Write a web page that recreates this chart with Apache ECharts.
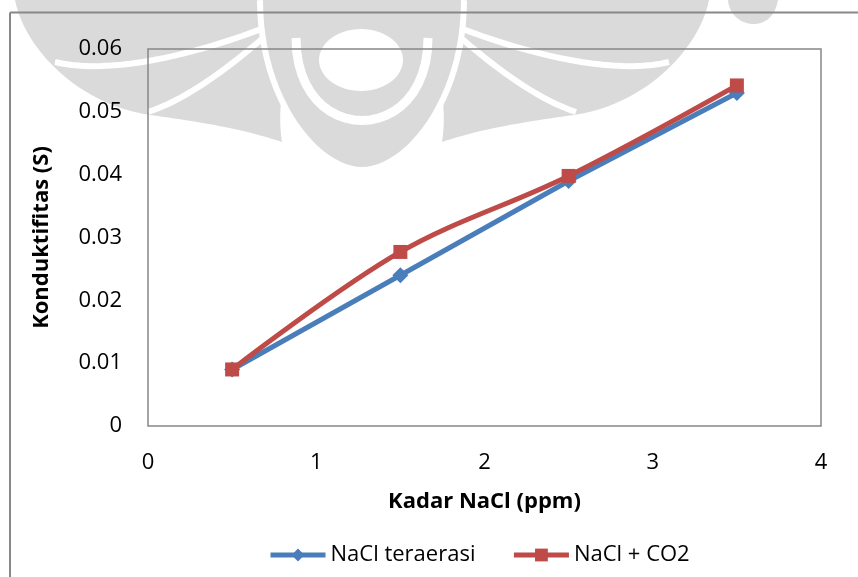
<!DOCTYPE html>
<html>
<head>
<meta charset="utf-8">
<script src="https://cdn.jsdelivr.net/npm/echarts@6/dist/echarts.min.js"></script>
<style>
  html, body { margin: 0; padding: 0; background: #ffffff; }
  #chart { width: 858px; height: 577px; }
</style>
</head>
<body>
<div id="chart"></div>
<script>
// NaCl concentration (ppm) on the x axis
var kadarNaCl = [0.5, 1.5, 2.5, 3.5];
// Conductivity (S) for each condition
var naclTeraerasi = [0.009, 0.024, 0.039, 0.053];
var naclCO2 = [0.009, 0.0277, 0.0398, 0.0542];
// Axis ticks
var xTicks = [0, 1, 2, 3, 4];
var yTicks = [0, 0.01, 0.02, 0.03, 0.04, 0.05, 0.06];

var seriesNames = ['NaCl teraerasi', 'NaCl + CO2'];
var FONT = '"Open Sans", "DejaVu Sans", sans-serif';
var WM = '#dadada';

function pairs(xs, ys) {
  return xs.map(function (x, i) { return [x, ys[i]]; });
}

// --- faint logo watermark behind the chart ---
// turn a path made of M / C / L commands into sampled points
function samplePath(d) {
  var tokens = d.match(/[MCLZ]|-?\d+(\.\d+)?/g);
  var pts = [], cur = [0, 0], i = 0, cmd = null;
  function num() { return parseFloat(tokens[i++]); }
  while (i < tokens.length) {
    var t = tokens[i];
    if (/[MCLZ]/.test(t)) { cmd = t; i++; if (cmd === 'Z') continue; }
    if (cmd === 'M' || cmd === 'L') {
      cur = [num(), num()]; pts.push(cur.slice());
    } else if (cmd === 'C') {
      var p1 = [num(), num()], p2 = [num(), num()], p3 = [num(), num()];
      for (var s = 1; s <= 24; s++) {
        var u = s / 24, v = 1 - u;
        pts.push([
          v * v * v * cur[0] + 3 * v * v * u * p1[0] + 3 * v * u * u * p2[0] + u * u * u * p3[0],
          v * v * v * cur[1] + 3 * v * v * u * p1[1] + 3 * v * u * u * p2[1] + u * u * u * p3[1]
        ]);
      }
      cur = p3;
    }
  }
  return pts;
}
var cx = 362;
function mirrorPts(pts) { return pts.map(function (p) { return [2 * cx - p[0], p[1]]; }); }
function ellipsePts(ex, ey, rx, ry) {
  var pts = [];
  for (var k = 0; k < 60; k++) {
    var a = k / 60 * Math.PI * 2;
    pts.push([ex + rx * Math.cos(a), ey + ry * Math.sin(a)]);
  }
  return pts;
}

var leftWing = samplePath('M15,0 C25,50 80,105 150,115 C200,122 240,128 282,142 C275,100 290,50 300,0 Z');
var stripeA = samplePath('M55,62 C120,78 230,45 302,12');
var stripeB = samplePath('M148,112 C200,95 255,45 290,15');
var dropPath = 'M263,0 C263,100 320,167 362,167 C404,167 461,100 461,0';
var wm = [];
[leftWing, mirrorPts(leftWing)].forEach(function (p) {
  wm.push({ type: 'polygon', z: -10, shape: { points: p }, style: { fill: WM } });
});
[stripeA, stripeB, mirrorPts(stripeA), mirrorPts(stripeB)].forEach(function (p) {
  wm.push({ type: 'polyline', z: -9, shape: { points: p }, style: { stroke: '#ffffff', lineWidth: 6 } });
});
wm.push({ type: 'polyline', z: -8, shape: { points: samplePath(dropPath) }, style: { stroke: '#ffffff', lineWidth: 12 } });
wm.push({ type: 'polygon', z: -7, shape: { points: samplePath(dropPath + ' Z') }, style: { fill: WM } });
wm.push({ type: 'polyline', z: -6, shape: { points: samplePath('M296,38 C296,148 428,148 428,38') }, style: { stroke: '#ffffff', lineWidth: 9 } });
wm.push({ type: 'polygon', z: -5, shape: { points: ellipsePts(361, 60, 42, 31) }, style: { fill: '#ffffff' } });
wm.push({ type: 'polygon', z: -5, shape: { points: samplePath('M728,0 C730,28 772,36 778,0 Z') }, style: { fill: WM } });

// outer frame lines
wm.push({ type: 'line', z: 5, shape: { x1: 10, y1: 12.5, x2: 858, y2: 12.5 }, style: { stroke: '#888888', lineWidth: 2 } });
wm.push({ type: 'line', z: 5, shape: { x1: 10, y1: 12.5, x2: 10, y2: 577 }, style: { stroke: '#888888', lineWidth: 2 } });

var chart = echarts.init(document.getElementById('chart'), null, { renderer: 'canvas' });
chart.setOption({
  backgroundColor: '#ffffff',
  animation: false,
  textStyle: { fontFamily: FONT },
  graphic: wm,
  grid: {
    left: 148, right: 37, top: 49, bottom: 151,
    show: true, borderColor: '#878787', borderWidth: 1.5, backgroundColor: 'transparent'
  },
  legend: {
    data: seriesNames,
    left: 263,
    top: 539,
    itemWidth: 55,
    itemHeight: 16,
    itemGap: 36,
    lineStyle: { width: 5 },
    textStyle: { fontSize: 22, color: '#000000', fontFamily: FONT }
  },
  xAxis: {
    type: 'value',
    min: xTicks[0],
    max: xTicks[xTicks.length - 1],
    interval: xTicks[1] - xTicks[0],
    name: 'Kadar NaCl (ppm)',
    nameLocation: 'middle',
    nameGap: 65,
    nameTextStyle: { fontSize: 22, fontWeight: 'bold', color: '#000000', fontFamily: FONT },
    axisLine: { show: false },
    axisTick: { show: false },
    splitLine: { show: false },
    axisLabel: { fontSize: 22, color: '#000000', margin: 26, fontFamily: FONT }
  },
  yAxis: {
    type: 'value',
    min: yTicks[0],
    max: yTicks[yTicks.length - 1],
    interval: 0.01,
    name: 'Konduktifitas (S)',
    nameLocation: 'middle',
    nameGap: 95,
    nameTextStyle: { fontSize: 22, fontWeight: 'bold', color: '#000000', fontFamily: FONT },
    axisLine: { show: false },
    axisTick: { show: false },
    splitLine: { show: false },
    axisLabel: {
      fontSize: 22, color: '#000000', margin: 26, fontFamily: FONT,
      formatter: function (v) { return String(Math.round(v * 100) / 100); }
    }
  },
  series: [
    {
      name: seriesNames[0],
      type: 'line',
      data: pairs(kadarNaCl, naclTeraerasi),
      symbol: 'diamond',
      symbolSize: 16,
      lineStyle: { color: '#4a7ebb', width: 5 },
      itemStyle: { color: '#4a7ebb' },
      z: 2
    },
    {
      name: seriesNames[1],
      type: 'line',
      data: pairs(kadarNaCl, naclCO2),
      smooth: 0.35,
      symbol: 'rect',
      symbolSize: 14,
      lineStyle: { color: '#be4b48', width: 5 },
      itemStyle: { color: '#be4b48' },
      z: 3
    }
  ]
});
</script>
</body>
</html>
